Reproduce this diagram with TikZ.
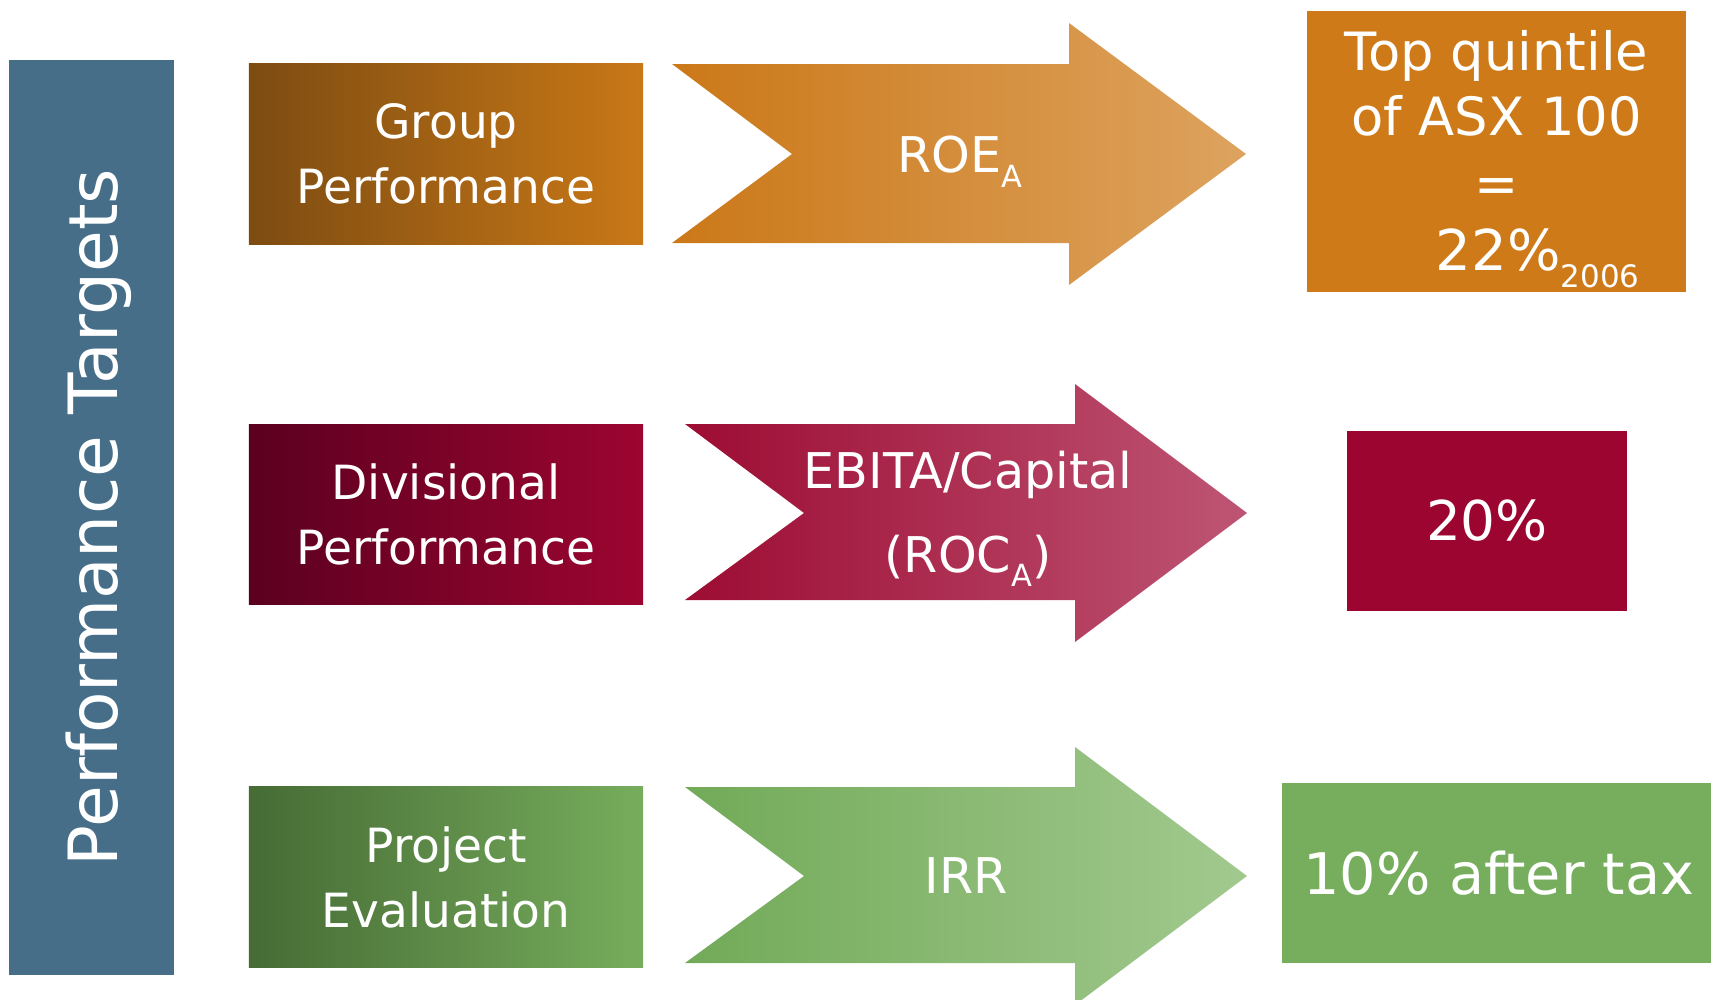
\documentclass[tikz,border=0pt]{standalone}
\usepackage{fontspec}
\setmainfont{DejaVu Sans}
\usepackage{tikz}
\usetikzlibrary{calc}
\definecolor{barblue}{rgb}{0.275,0.431,0.537}
\definecolor{grpdark}{rgb}{0.49,0.298,0.071}
\definecolor{grplight}{rgb}{0.788,0.471,0.086}
\definecolor{arrorga}{rgb}{0.796,0.471,0.094}
\definecolor{arrorgb}{rgb}{0.867,0.639,0.373}
\definecolor{toporange}{rgb}{0.808,0.478,0.094}
\definecolor{divdark}{rgb}{0.357,0.,0.125}
\definecolor{divlight}{rgb}{0.612,0.02,0.188}
\definecolor{arrreda}{rgb}{0.616,0.047,0.2}
\definecolor{arrredb}{rgb}{0.745,0.333,0.455}
\definecolor{prjdark}{rgb}{0.275,0.42,0.208}
\definecolor{prjlight}{rgb}{0.463,0.678,0.361}
\definecolor{arrgrna}{rgb}{0.447,0.667,0.345}
\definecolor{arrgrnb}{rgb}{0.635,0.788,0.561}
\definecolor{tengreen}{rgb}{0.467,0.682,0.369}
\newcommand{\lowsub}[2][0.62]{\raisebox{-0.3em}{\scalebox{#1}{#2}}}
\tikzstyle{every node}=[font=\fontsize{13.4pt}{18.5pt}\selectfont,text=white,align=center,inner sep=0pt]
\tikzstyle{box}=[rectangle,minimum width=3.94cm,minimum height=1.8cm]

\begin{document}
\begin{tikzpicture}[line cap=round,line join=round,x=0.01cm,y=-0.01cm]
    \useasboundingbox (0,0) rectangle (1711,1000);
    % side bar
    \node[rotate=90,fill=barblue,minimum width=9.15cm,minimum height=1.65cm,text depth=0pt,font=\fontsize{19.3pt}{22pt}\selectfont] (targets) at (91.5,517.5) {Performance Targets};
    % left column
    \node[box,left color=grpdark,right color=grplight] (group) at (446,154) {Group\\Performance};
    \node[box,left color=divdark,right color=divlight] (divisional) at (446,514.5) {Divisional\\Performance};
    \node[box,left color=prjdark,right color=prjlight] (project) at (446,877) {Project\\Evaluation};
    % arrows
    \shade[left color=arrorga,right color=arrorgb] (672,64) -- (1069,64) -- (1069,23) -- (1246,154) -- (1069,285) -- (1069,243) -- (672,243) -- (792,154) -- cycle;
    \shade[left color=arrreda,right color=arrredb] (685,424) -- (1075,424) -- (1075,384) -- (1247,513) -- (1075,642) -- (1075,600) -- (685,600) -- (804,513) -- cycle;
    \shade[left color=arrgrna,right color=arrgrnb] (685,787) -- (1075,787) -- (1075,747) -- (1247,876) -- (1075,1005) -- (1075,963) -- (685,963) -- (804,876) -- cycle;
    \node[text depth=0pt,font=\fontsize{14pt}{17pt}\selectfont] (roe) at (960,154) {ROE\lowsub{A}};
    \node[font=\fontsize{14pt}{23.8pt}\selectfont] (roc) at (968,519) {EBITA/Capital\\(ROC\lowsub{A})};
    \node[font=\fontsize{14pt}{17pt}\selectfont] (irr) at (966,876) {IRR};
    % targets
    \node[fill=toporange,minimum width=3.79cm,minimum height=2.81cm,font=\fontsize{15pt}{18.5pt}\selectfont] (topq) at (1496.5,151.5) {\rule{0pt}{15.8pt}Top quintile\\of ASX 100\\[0.6pt]=\\[0.9pt]\hspace*{0.82cm}{\fontsize{16pt}{18pt}\selectfont 22\%\lowsub[0.55]{2006}}};
    \node[fill=divlight,minimum width=2.8cm,minimum height=1.8cm,font=\fontsize{15.6pt}{18pt}\selectfont] (twenty) at (1487,521) {20\%};
    \node[fill=tengreen,minimum width=4.34cm,minimum height=1.8cm,font=\fontsize{16.3pt}{19pt}\selectfont] (tentax) at (1499,873) {10\% after tax};
\end{tikzpicture}
\end{document}
